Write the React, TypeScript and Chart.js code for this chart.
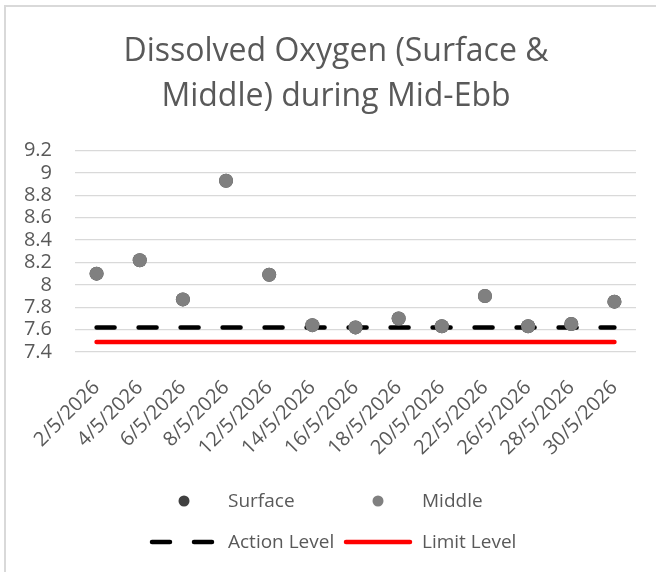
import React, { useEffect, useRef } from "react";
import { Chart, registerables } from "chart.js";

Chart.register(...registerables);

const categories = [
  "2/5/2026", "4/5/2026", "6/5/2026", "8/5/2026", "12/5/2026", "14/5/2026", "16/5/2026",
  "18/5/2026", "20/5/2026", "22/5/2026", "26/5/2026", "28/5/2026", "30/5/2026",
];
const surface = [8.1, 8.22, 7.87, 8.93, 8.09, 7.64, 7.62, 7.7, 7.63, 7.9, 7.63, 7.65, 7.85];
const middle = [8.1, 8.22, 7.87, 8.93, 8.09, 7.64, 7.62, 7.7, 7.63, 7.9, 7.63, 7.65, 7.85];
const actionLevel = [7.62, 7.62, 7.62, 7.62, 7.62, 7.62, 7.62, 7.62, 7.62, 7.62, 7.62, 7.62, 7.62];
const limitLevel = [7.49, 7.49, 7.49, 7.49, 7.49, 7.49, 7.49, 7.49, 7.49, 7.49, 7.49, 7.49, 7.49];
const yTicks = [7.4, 7.6, 7.8, 8, 8.2, 8.4, 8.6, 8.8, 9, 9.2];
const titleLines = ["Dissolved Oxygen (Surface &", "Middle) during Mid-Ebb"];

const FONT = "'Open Sans', sans-serif";
const TEXT = "#595959";

const legendPlugin = {
  id: "excelLegend",
  afterDraw(chart: any) {
    const ctx = chart.ctx;
    const cx = chart.width / 2;
    const col = [cx - 178, cx + 16];
    const rows = [501, 542];
    const sw = 68;
    ctx.save();
    ctx.font = `19px ${FONT}`;
    ctx.textBaseline = "middle";
    ctx.textAlign = "left";
    const items = [
      { label: "Surface", kind: "dot", color: "#404040", c: 0, r: 0 },
      { label: "Middle", kind: "dot", color: "#808080", c: 1, r: 0 },
      { label: "Action Level", kind: "dash", color: "#000000", c: 0, r: 1 },
      { label: "Limit Level", kind: "line", color: "#ff0000", c: 1, r: 1 },
    ];
    for (const it of items) {
      const x = col[it.c];
      const y = rows[it.r];
      if (it.kind === "dot") {
        ctx.beginPath();
        ctx.fillStyle = it.color;
        ctx.arc(x + sw / 2, y, 5.5, 0, Math.PI * 2);
        ctx.fill();
      } else {
        ctx.beginPath();
        ctx.strokeStyle = it.color;
        ctx.lineWidth = 4.5;
        ctx.lineCap = "round";
        ctx.setLineDash(it.kind === "dash" ? [18, 24] : []);
        ctx.moveTo(x + 2, y);
        ctx.lineTo(x + sw - 2, y);
        ctx.stroke();
        ctx.setLineDash([]);
      }
      ctx.fillStyle = TEXT;
      ctx.fillText(it.label, x + 78, y + 1);
    }
    ctx.restore();
  },
};

export default function App() {
  const ref = useRef<HTMLCanvasElement>(null);
  useEffect(() => {
    if (!ref.current) return;
    const chart = new Chart(ref.current, {
      type: "line",
      data: {
        labels: categories,
        datasets: [
          {
            label: "Middle",
            data: middle,
            showLine: false,
            pointRadius: 7,
            pointBackgroundColor: "#808080",
            pointBorderWidth: 0,
            borderColor: "#808080",
            order: 0,
          },
          {
            label: "Surface",
            data: surface,
            showLine: false,
            pointRadius: 7,
            pointBackgroundColor: "#404040",
            pointBorderWidth: 0,
            borderColor: "#404040",
            order: 1,
          },
          {
            label: "Action Level",
            data: actionLevel,
            borderColor: "#000000",
            borderWidth: 4.5,
            borderDash: [18, 24],
            borderCapStyle: "round",
            pointRadius: 0,
            order: 2,
          },
          {
            label: "Limit Level",
            data: limitLevel,
            borderColor: "#ff0000",
            borderWidth: 4.5,
            borderCapStyle: "round",
            pointRadius: 0,
            order: 3,
          },
        ],
      },
      options: {
        animation: false,
        responsive: true,
        maintainAspectRatio: false,
        layout: { padding: { top: 0, left: 20, right: 4, bottom: 110 } },
        plugins: {
          legend: { display: false },
          tooltip: { enabled: false },
          title: {
            display: true,
            text: titleLines,
            color: TEXT,
            font: { family: FONT, size: 32, weight: "normal", lineHeight: 1.415 },
            padding: { top: 29, bottom: 31 },
          },
        },
        scales: {
          x: {
            type: "category",
            offset: true,
            grid: { display: false },
            border: { display: false },
            ticks: {
              color: TEXT,
              font: { family: FONT, size: 20 },
              minRotation: 45,
              maxRotation: 45,
              autoSkip: false,
              padding: 16,
            },
            afterFit(scale: any) {
              scale.height = 110;
            },
          },
          y: {
            min: 7.4,
            max: 9.2,
            afterBuildTicks(scale: any) {
              scale.ticks = yTicks.map((v) => ({ value: v }));
            },
            grid: { color: "#d9d9d9", lineWidth: 1.3, drawTicks: false },
            border: { display: false },
            ticks: {
              color: TEXT,
              font: { family: FONT, size: 20 },
              padding: 23,
              autoSkip: false,
              callback: (v: any) => String(Math.round(Number(v) * 10) / 10),
            },
            afterFit(scale: any) {
              scale.width = 55;
            },
          },
          spacer: {
            type: "linear",
            position: "right",
            display: true,
            grid: { display: false, drawOnChartArea: false },
            border: { display: false },
            ticks: { display: false },
            afterFit(scale: any) {
              scale.width = 16;
            },
          },
        },
      },
      plugins: [legendPlugin],
    });
    return () => chart.destroy();
  }, []);

  return (
    <div style={{ position: "fixed", left: 0, top: 0, width: 656, height: 572, overflow: "hidden", background: "#fff" }}>
      <div
        style={{
          position: "absolute",
          left: 4,
          top: 5,
          width: 700,
          height: 700,
          border: "2px solid #d9d9d9",
          boxSizing: "border-box",
        }}
      />
      <div style={{ position: "absolute", left: 0, top: 0, width: 656, height: 572 }}>
        <canvas ref={ref} />
      </div>
    </div>
  );
}
